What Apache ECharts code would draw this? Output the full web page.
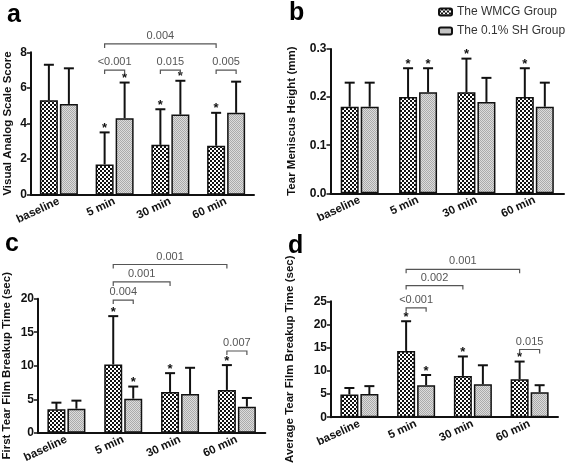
<!DOCTYPE html>
<html><head><meta charset="utf-8">
<script src="https://cdn.jsdelivr.net/npm/echarts@6/dist/echarts.min.js"></script>
<style>html,body{margin:0;padding:0;background:#fff}#c{width:567px;height:465px}</style>
</head><body><div id="c"></div>
<script>
// ---------- data ----------
const categories = ['baseline', '5 min', '30 min', '60 min'];
const seriesNames = ['The WMCG Group', 'The 0.1% SH Group'];

// a: Visual Analog Scale Score
const vasWMCG = [5.3, 1.7, 2.8, 2.75];
const vasWMCGUpper = [7.3, 3.5, 4.8, 4.6];
const vasSH = [5.1, 4.3, 4.5, 4.6];
const vasSHUpper = [7.1, 6.3, 6.4, 6.35];
const vasStarsWMCG = [0, 1, 1, 1];
const vasStarsSH = [0, 1, 1, 0];
// [fromCat, fromGroup, toCat, toGroup, y, label]
const vasBrackets = [[1, 0, 3, 0, 8.47, '0.004'], [1, 0, 1, 1, 7.0, '<0.001'], [2, 0, 2, 1, 7.0, '0.015'], [3, 0, 3, 1, 7.0, '0.005']];

// b: Tear Meniscus Height (mm)
const tmhWMCG = [0.18, 0.20, 0.21, 0.20];
const tmhWMCGUpper = [0.23, 0.26, 0.28, 0.26];
const tmhSH = [0.18, 0.21, 0.19, 0.18];
const tmhSHUpper = [0.23, 0.26, 0.24, 0.23];
const tmhStarsWMCG = [0, 1, 1, 1];
const tmhStarsSH = [0, 1, 0, 0];
const tmhBrackets = [];

// c: First Tear Film Breakup Time (sec)
const ftbutWMCG = [3.5, 10.2, 6.1, 6.4];
const ftbutWMCGUpper = [4.5, 17.4, 8.9, 10.1];
const ftbutSH = [3.6, 5.1, 5.8, 3.9];
const ftbutSHUpper = [4.8, 6.9, 9.7, 5.2];
const ftbutStarsWMCG = [0, 1, 1, 1];
const ftbutStarsSH = [0, 1, 0, 0];
const ftbutBrackets = [[1, 0, 3, 0, 25.1, '0.001'], [1, 0, 2, 0, 22.5, '0.001'], [1, 0, 1, 1, 19.8, '0.004'], [3, 0, 3, 1, 12.2, '0.007']];

// d: Average Tear Film Breakup Time (sec)
const atbutWMCG = [4.9, 14.3, 8.9, 8.2];
const atbutWMCGUpper = [6.3, 20.7, 13.1, 12.0];
const atbutSH = [5.0, 6.9, 7.1, 5.4];
const atbutSHUpper = [6.7, 9.1, 11.2, 6.9];
const atbutStarsWMCG = [0, 1, 1, 1];
const atbutStarsSH = [0, 1, 0, 0];
const atbutBrackets = [[1, 0, 3, 0, 31.9, '0.001'], [1, 0, 2, 0, 28.4, '0.002'], [1, 0, 1, 1, 23.6, '<0.001'], [3, 0, 3, 1, 14.6, '0.015']];

// ---------- styling ----------
const FONT = '"Liberation Sans", Arial, sans-serif';
const BAR_W = 18, BAR_GAP = 2, OFF = (BAR_W + BAR_GAP) / 2;

function makePattern(kind) {
  const cv = document.createElement('canvas');
  if (kind === 'check') {
    cv.width = 4; cv.height = 4;
    const g = cv.getContext('2d');
    g.fillStyle = '#111'; g.fillRect(0, 0, 4, 4);
    g.fillStyle = '#fff'; g.fillRect(0, 0, 2, 2); g.fillRect(2, 2, 2, 2);
  } else {
    cv.width = 2; cv.height = 2;
    const g = cv.getContext('2d');
    g.fillStyle = '#dcdcdc'; g.fillRect(0, 0, 2, 2);
    g.fillStyle = '#ababab'; g.fillRect(0, 0, 1, 1); g.fillRect(1, 1, 1, 1);
  }
  return { image: cv, repeat: 'repeat' };
}
const patW = makePattern('check');
const patS = makePattern('dots');

const panels = [
  { grid: { left: 31, top: 52.3, width: 223, height: 142.4 }, max: 8, interval: 2, dec: 0,
    name: 'Visual Analog Scale Score', nameGap: 17,
    w: vasWMCG, wu: vasWMCGUpper, s: vasSH, su: vasSHUpper, ws: vasStarsWMCG, ss: vasStarsSH, br: vasBrackets },
  { grid: { left: 330.5, top: 49, width: 233.5, height: 144.3 }, max: 0.3, interval: 0.1, dec: 1,
    name: 'Tear Meniscus Height (mm)', nameGap: 33,
    w: tmhWMCG, wu: tmhWMCGUpper, s: tmhSH, su: tmhSHUpper, ws: tmhStarsWMCG, ss: tmhStarsSH, br: tmhBrackets },
  { grid: { left: 37.8, top: 298.7, width: 227.5, height: 134.3 }, max: 20, interval: 5, dec: 0,
    name: 'First Tear Film Breakup Time (sec)', nameGap: 25,
    w: ftbutWMCG, wu: ftbutWMCGUpper, s: ftbutSH, su: ftbutSHUpper, ws: ftbutStarsWMCG, ss: ftbutStarsSH, br: ftbutBrackets },
  { grid: { left: 331, top: 301.3, width: 227, height: 131.4 }, max: 25, interval: 5, dec: 0,
    name: 'Average Tear Film Breakup Time (sec)', nameGap: 35,
    w: atbutWMCG, wu: atbutWMCGUpper, s: atbutSH, su: atbutSHUpper, ws: atbutStarsWMCG, ss: atbutStarsSH, br: atbutBrackets }
];

function errRender(params, api) {
  const cat = api.value(0), grp = api.value(1), mean = api.value(2), up = api.value(3), star = api.value(4);
  const p0 = api.coord([cat, mean]), p1 = api.coord([cat, up]);
  const x = p0[0] + (grp === 0 ? -OFF : OFF);
  const ls = { stroke: '#111', lineWidth: 2 };
  const ch = [
    { type: 'line', shape: { x1: x, y1: p0[1], x2: x, y2: p1[1] }, style: ls },
    { type: 'line', shape: { x1: x - 5, y1: p1[1], x2: x + 5, y2: p1[1] }, style: ls }
  ];
  if (star) ch.push({ type: 'text', style: { text: '*', x: x, y: p1[1] - 4, align: 'center', verticalAlign: 'middle',
    font: 'bold 13px ' + FONT, fill: '#111' } });
  return { type: 'group', children: ch };
}
function brRender(params, api) {
  const c1 = api.value(0), g1 = api.value(1), c2 = api.value(2), g2 = api.value(3), yv = api.value(4);
  const label = params.context.labels[params.dataIndex];
  const a = api.coord([c1, yv]), b = api.coord([c2, yv]);
  const x1 = a[0] + (g1 === 0 ? -OFF : OFF), x2 = b[0] + (g2 === 0 ? -OFF : OFF), y = a[1];
  const ls = { stroke: '#555', lineWidth: 1.2, fill: null };
  return { type: 'group', children: [
    { type: 'polyline', shape: { points: [[x1, y + 4], [x1, y], [x2, y], [x2, y + 4]] }, style: ls },
    { type: 'text', style: { text: label, x: (x1 + x2) / 2, y: y - 8, align: 'center', verticalAlign: 'middle',
      font: '11px ' + FONT, fill: '#555' } }
  ] };
}

const option = { animation: false, grid: [], xAxis: [], yAxis: [], series: [], graphic: [] };
panels.forEach((p, i) => {
  option.grid.push(Object.assign({ containLabel: false }, p.grid));
  option.xAxis.push({ type: 'category', gridIndex: i, data: categories,
    axisLine: { lineStyle: { color: '#111', width: 2 } },
    axisTick: { alignWithLabel: true, length: 4, lineStyle: { color: '#111', width: 1.5 } },
    axisLabel: { rotate: 25, margin: 6, fontFamily: FONT, fontWeight: 'bold', fontSize: 11.5, color: '#111' } });
  option.yAxis.push({ type: 'value', gridIndex: i, min: 0, max: p.max, interval: p.interval,
    name: p.name, nameLocation: 'middle', nameGap: p.nameGap,
    nameTextStyle: { fontFamily: FONT, fontWeight: 'bold', fontSize: 11.5, color: '#111' },
    splitLine: { show: false },
    axisLine: { show: true, lineStyle: { color: '#111', width: 2 } },
    axisTick: { show: true, length: 4, lineStyle: { color: '#111', width: 1.5 } },
    axisLabel: { margin: 4, fontFamily: FONT, fontWeight: 'bold', fontSize: 12, color: '#111',
      formatter: v => v.toFixed(p.dec) } });
  option.series.push({ type: 'bar', name: seriesNames[0], xAxisIndex: i, yAxisIndex: i, data: p.w,
    barWidth: BAR_W, barGap: (BAR_GAP / BAR_W * 100) + '%',
    itemStyle: { color: patW, borderColor: '#111', borderWidth: 1.5 } });
  option.series.push({ type: 'bar', name: seriesNames[1], xAxisIndex: i, yAxisIndex: i, data: p.s,
    barWidth: BAR_W, barGap: (BAR_GAP / BAR_W * 100) + '%',
    itemStyle: { color: patS, borderColor: '#111', borderWidth: 1.5 } });
  const err = [];
  categories.forEach((c, k) => {
    err.push([k, 0, p.w[k], p.wu[k], p.ws[k]]);
    err.push([k, 1, p.s[k], p.su[k], p.ss[k]]);
  });
  option.series.push({ type: 'custom', xAxisIndex: i, yAxisIndex: i, data: err, renderItem: errRender,
    encode: { x: 0, y: 3 }, clip: false, z: 5, silent: true });
  if (p.br.length) {
    const ctxLabels = p.br.map(b => b[5]);
    option.series.push({ type: 'custom', xAxisIndex: i, yAxisIndex: i,
      data: p.br.map(b => b.slice(0, 5)),
      renderItem: (params, api) => { params.context.labels = ctxLabels; return brRender(params, api); },
      encode: { x: 0, y: 4 }, clip: false, z: 5, silent: true });
  }
});
option.legend = { orient: 'vertical', left: 433, top: 1, itemWidth: 13, itemHeight: 7, itemGap: 7,
  data: seriesNames, textStyle: { fontFamily: FONT, fontSize: 12, color: '#333' }, selectedMode: false };
[['a', 7, 15], ['b', 289, 13.6], ['c', 5, 244.6], ['d', 288, 246.6]].forEach(l => {
  option.graphic.push({ type: 'text', x: l[1], y: l[2],
    style: { text: l[0], font: 'bold 25px ' + FONT, fill: '#000', verticalAlign: 'middle' } });
});
const chart = echarts.init(document.getElementById('c'), null, { renderer: 'canvas' });
chart.setOption(option);
</script></body></html>
